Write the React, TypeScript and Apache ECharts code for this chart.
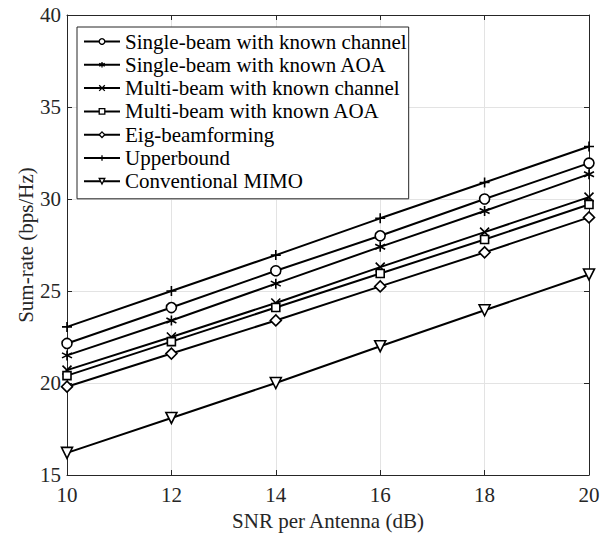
import React, { useEffect, useRef } from "react";
import * as echarts from "echarts";

const snr = [10, 12, 14, 16, 18, 20];
const seriesNames = [
  "Single-beam with known channel",
  "Single-beam with known AOA",
  "Multi-beam with known channel",
  "Multi-beam with known AOA",
  "Eig-beamforming",
  "Upperbound",
  "Conventional MIMO",
];
const singleBeamChannel = [22.15, 24.1, 26.1, 28.0, 30.0, 31.95];
const singleBeamAOA = [21.5, 23.4, 25.4, 27.4, 29.35, 31.35];
const multiBeamChannel = [20.7, 22.5, 24.35, 26.3, 28.2, 30.1];
const multiBeamAOA = [20.4, 22.25, 24.1, 25.95, 27.8, 29.7];
const eigBeamforming = [19.8, 21.6, 23.4, 25.25, 27.1, 29.0];
const upperbound = [23.05, 25.0, 26.95, 28.95, 30.9, 32.85];
const conventionalMIMO = [16.2, 18.1, 20.0, 22.0, 23.95, 25.9];
const seriesValues = [
  singleBeamChannel,
  singleBeamAOA,
  multiBeamChannel,
  multiBeamAOA,
  eigBeamforming,
  upperbound,
  conventionalMIMO,
];

const SYM_ASTERISK = "path://M5,0 L5,10 M0.7,2.5 L9.3,7.5 M9.3,2.5 L0.7,7.5";
const SYM_X = "path://M0,0 L10,10 M10,0 L0,10";
const SYM_PLUS = "path://M5,0 L5,10 M0,5 L10,5";
const SYM_TRI_DOWN = "path://M0,0 L10,0 L5,9 Z";

const symbols = [
  { symbol: "circle", size: 10 },
  { symbol: SYM_ASTERISK, size: 10 },
  { symbol: SYM_X, size: 9 },
  { symbol: "rect", size: 8 },
  { symbol: "diamond", size: 11 },
  { symbol: SYM_PLUS, size: 10 },
  { symbol: SYM_TRI_DOWN, size: 11 },
];

const FONT = "'Liberation Serif', 'Times New Roman', serif";
const TXT = "#262626";

export default function App() {
  const ref = useRef<HTMLDivElement>(null);
  useEffect(() => {
    if (!ref.current) return;
    const chart = echarts.init(ref.current, undefined, { renderer: "svg" });
    const axisCommon = {
      axisLine: { show: true, onZero: false, lineStyle: { color: "#262626", width: 1 } },
      axisTick: { show: true, inside: true, length: 5, lineStyle: { color: "#262626" } },
    };
    chart.setOption({
      animation: false,
      backgroundColor: "#ffffff",
      grid: { left: 67, right: 21, top: 15, bottom: 59, containLabel: false },
      legend: {
        orient: "vertical",
        left: 77,
        top: 27,
        padding: [4, 2, 7, 6],
        itemWidth: 36,
        itemHeight: 7,
        itemGap: 2.3,
        itemStyle: { borderWidth: 1.3 },
        borderColor: "#262626",
        borderWidth: 1,
        backgroundColor: "#ffffff",
        textStyle: { fontFamily: FONT, fontSize: 21, color: "#000", lineHeight: 21 },
        data: seriesNames,
      },
      xAxis: [
        {
          type: "value",
          min: 10,
          max: 20,
          interval: 2,
          ...axisCommon,
          axisLabel: { fontFamily: FONT, fontSize: 21, color: TXT, margin: 9 },
          splitLine: { show: true, lineStyle: { color: "#e3e3e3", width: 1 } },
          name: "SNR per Antenna (dB)",
          nameLocation: "middle",
          nameGap: 35,
          nameMoveOverlap: false,
          nameTextStyle: { fontFamily: FONT, fontSize: 21, color: TXT },
        },
        {
          type: "value",
          position: "top",
          min: 10,
          max: 20,
          interval: 2,
          ...axisCommon,
          axisLabel: { show: false },
          splitLine: { show: false },
        },
      ],
      yAxis: [
        {
          type: "value",
          min: 15,
          max: 40,
          interval: 5,
          ...axisCommon,
          axisLabel: { fontFamily: FONT, fontSize: 21, color: TXT, margin: 6 },
          splitLine: { show: true, lineStyle: { color: "#e3e3e3", width: 1 } },
          name: "Sum-rate (bps/Hz)",
          nameLocation: "middle",
          nameGap: 31,
          nameMoveOverlap: false,
          nameTextStyle: { fontFamily: FONT, fontSize: 21, color: TXT },
        },
        {
          type: "value",
          position: "right",
          min: 15,
          max: 40,
          interval: 5,
          ...axisCommon,
          axisLabel: { show: false },
          splitLine: { show: false },
        },
      ],
      series: seriesNames.map((name, i) => ({
        name,
        type: "line",
        xAxisIndex: 0,
        yAxisIndex: 0,
        data: snr.map((x, j) => [x, seriesValues[i][j]]),
        symbol: symbols[i].symbol,
        symbolSize: symbols[i].size,
        showAllSymbol: true,
        lineStyle: { color: "#000", width: 2 },
        itemStyle: { color: "#ffffff", borderColor: "#000", borderWidth: 1.6 },
        emphasis: { disabled: true },
        z: 3,
      })),
    });
    return () => chart.dispose();
  }, []);
  return (
    <div
      ref={ref}
      style={{ position: "absolute", left: 0, top: 0, width: 610, height: 536 }}
    />
  );
}
